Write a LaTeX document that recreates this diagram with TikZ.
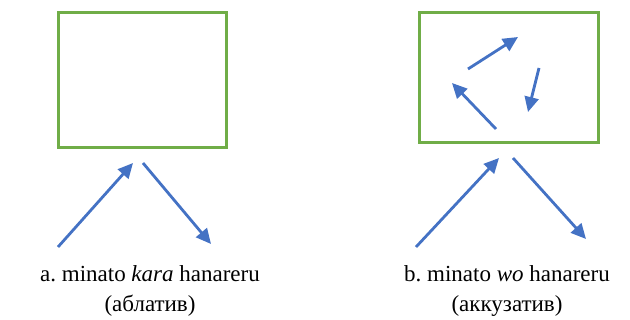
\documentclass[tikz,border=0pt]{standalone}
\usepackage{fontspec}
\setmainfont{Liberation Serif}
\usetikzlibrary{arrows.meta}
\definecolor{boxgreen}{HTML}{70AD47}
\definecolor{arrowblue}{HTML}{4472C4}
\tikzset{
  frame/.style={draw=boxgreen, line width=3pt},
  move/.style={draw=arrowblue, line width=2.8pt, -{Triangle[length=15pt,width=14pt]}},
  caption/.style={align=center, font=\fontsize{23}{30}\selectfont\frenchspacing, inner sep=0pt}
}
\begin{document}
\begin{tikzpicture}[x=1pt,y=-1pt]
\useasboundingbox (0,0) rectangle (630,320);
% left panel: ablative
\draw[frame] (58,13) rectangle (226,148);
\coordinate (a1s) at (58,247);
\coordinate (a1e) at (133,163);
\coordinate (a2s) at (143,163);
\coordinate (a2e) at (211,244);
\draw[move] (a1s) -- (a1e);
\draw[move] (a2s) -- (a2e);
\node[caption, anchor=base] (capa) at (150,312) {a. minato \textit{kara} hanareru\\(аблатив)};
% right panel: accusative
\draw[frame] (419,13) rectangle (598,143);
\coordinate (b1s) at (468,69);
\coordinate (b1e) at (518,37);
\coordinate (b2s) at (539,68);
\coordinate (b2e) at (528,112);
\coordinate (b3s) at (496,129);
\coordinate (b3e) at (452,83);
\draw[move] (b1s) -- (b1e);
\draw[move] (b2s) -- (b2e);
\draw[move] (b3s) -- (b3e);
\coordinate (b4s) at (416,247);
\coordinate (b4e) at (499,158);
\coordinate (b5s) at (513,158);
\coordinate (b5e) at (586,239);
\draw[move] (b4s) -- (b4e);
\draw[move] (b5s) -- (b5e);
\node[caption, anchor=base] (capb) at (507,312) {b. minato \textit{wo} hanareru\\(аккузатив)};
\end{tikzpicture}
\end{document}
